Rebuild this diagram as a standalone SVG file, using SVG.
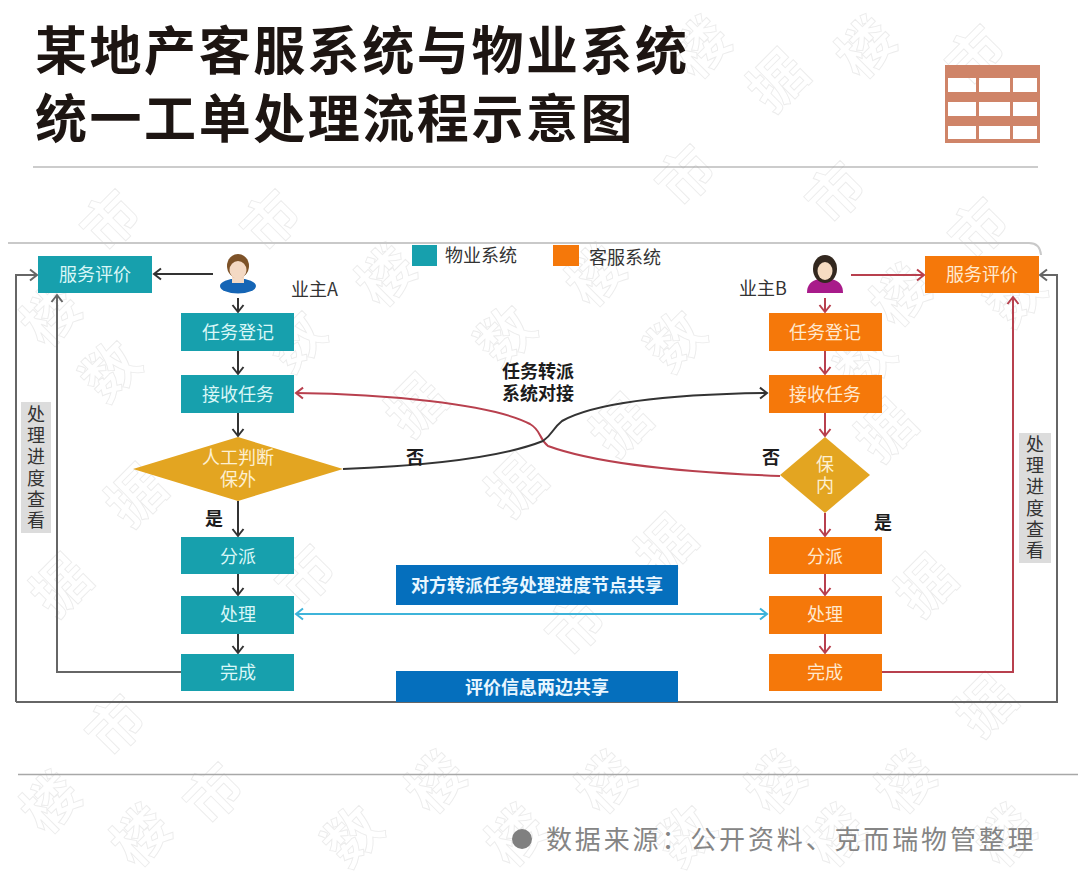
<svg xmlns="http://www.w3.org/2000/svg" width="1080" height="890" viewBox="0 0 1080 890">
<style>
text{font-family:"Noto Sans CJK SC","Noto Sans",sans-serif}
.wm text{font-size:56px;font-weight:700;fill:none;stroke:#ececec;stroke-width:.9;text-anchor:middle}
.title{font-size:52px;font-weight:700;fill:#1d1512;letter-spacing:2.55px}
.t{font-size:18px;text-anchor:middle;dominant-baseline:central}
.s{font-size:18px;font-weight:700;fill:#e8f6ff}
.tl{fill:#d9f7f7}.ol{fill:#ffe9cf}.dt{fill:#fdf0d2}
.teal{fill:#17a0ad}.org{fill:#f5780a}.blue{fill:#056fbd}.dia{fill:#e3a521}
.lab{fill:#333;font-size:18px}
.b{fill:#1c1c1c;font-size:18px;font-weight:700;text-anchor:middle;dominant-baseline:central}
.v{fill:#333;font-size:18px;writing-mode:vertical-rl;text-orientation:upright;letter-spacing:3.3px}
.k{fill:none;stroke:#333;stroke-width:2}
.r{fill:none;stroke:#b8404e;stroke-width:2}
.g{fill:none;stroke:#666;stroke-width:2}
.c{fill:none;stroke:#3eb4da;stroke-width:2}
</style>
<defs>
<marker id="ak" markerUnits="userSpaceOnUse" markerWidth="12" markerHeight="14" refX="10" refY="7" orient="auto-start-reverse"><path d="M3 1.5L10 7L3 12.5" fill="none" stroke="#333" stroke-width="2"/></marker>
<marker id="ar" markerUnits="userSpaceOnUse" markerWidth="12" markerHeight="14" refX="10" refY="7" orient="auto-start-reverse"><path d="M3 1.5L10 7L3 12.5" fill="none" stroke="#b8404e" stroke-width="2"/></marker>
<marker id="ac" markerUnits="userSpaceOnUse" markerWidth="12" markerHeight="14" refX="10" refY="7" orient="auto-start-reverse"><path d="M3 1.5L10 7L3 12.5" fill="none" stroke="#3eb4da" stroke-width="2"/></marker>
<marker id="ag" markerUnits="userSpaceOnUse" markerWidth="12" markerHeight="14" refX="10" refY="7" orient="auto-start-reverse"><path d="M3 1.5L10 7L3 12.5" fill="none" stroke="#666" stroke-width="2"/></marker>
</defs>
<rect width="1080" height="890" fill="#fff"/>
<g id="watermark" class="wm">
<text transform="translate(715,62) rotate(-45)">楼</text>
<text transform="translate(880,62) rotate(-45)">楼</text>
<text transform="translate(792,95) rotate(-45)">据</text>
<text transform="translate(990,70) rotate(-45)">市</text>
<text transform="translate(700,190) rotate(-45)">市</text>
<text transform="translate(850,207) rotate(-45)">市</text>
<text transform="translate(993,243) rotate(-45)">市</text>
<text transform="translate(125,235) rotate(-45)">市</text>
<text transform="translate(285,235) rotate(-45)">市</text>
<text transform="translate(65,330) rotate(-45)">楼</text>
<text transform="translate(125,385) rotate(-45)">数</text>
<text transform="translate(310,355) rotate(-45)">数</text>
<text transform="translate(520,350) rotate(-45)">数</text>
<text transform="translate(690,355) rotate(-45)">数</text>
<text transform="translate(880,375) rotate(-45)">数</text>
<text transform="translate(1030,310) rotate(-45)">数</text>
<text transform="translate(400,290) rotate(-45)">楼</text>
<text transform="translate(610,290) rotate(-45)">楼</text>
<text transform="translate(915,310) rotate(-45)">楼</text>
<text transform="translate(430,420) rotate(-45)">据</text>
<text transform="translate(635,440) rotate(-45)">据</text>
<text transform="translate(900,445) rotate(-45)">据</text>
<text transform="translate(150,510) rotate(-45)">据</text>
<text transform="translate(530,500) rotate(-45)">据</text>
<text transform="translate(680,560) rotate(-45)">据</text>
<text transform="translate(940,600) rotate(-45)">据</text>
<text transform="translate(75,600) rotate(-45)">据</text>
<text transform="translate(320,590) rotate(-45)">市</text>
<text transform="translate(590,640) rotate(-45)">市</text>
<text transform="translate(1000,720) rotate(-45)">据</text>
<text transform="translate(130,740) rotate(-45)">市</text>
<text transform="translate(228,808) rotate(-45)">市</text>
<text transform="translate(65,817) rotate(-45)">楼</text>
<text transform="translate(155,850) rotate(-45)">楼</text>
<text transform="translate(450,797) rotate(-45)">楼</text>
<text transform="translate(367,850) rotate(-45)">数</text>
<text transform="translate(620,797) rotate(-45)">楼</text>
<text transform="translate(790,797) rotate(-45)">楼</text>
<text transform="translate(920,797) rotate(-45)">楼</text>
<text transform="translate(530,850) rotate(-45)">楼</text>
<text transform="translate(700,850) rotate(-45)">数</text>
<text transform="translate(850,850) rotate(-45)">楼</text>
<text transform="translate(1020,850) rotate(-45)">楼</text>
</g>
<g id="header">
<text class="title" x="35" y="70">某地产客服系统与物业系统</text>
<text class="title" x="35" y="138">统一工单处理流程示意图</text>
<path d="M33 167H1038" stroke="#9a9a9a" stroke-width="1.2" fill="none"/>
<path d="M945 65H1040V143H945Z M948 78V92H976V78Z M979 78V92H1010V78Z M1013 78V92H1037V78Z M948 102V116H976V102Z M979 102V116H1010V102Z M1013 102V116H1037V102Z M948 126V139H976V126Z M979 126V139H1010V126Z M1013 126V139H1037V126Z" fill="#cf8468" fill-rule="evenodd"/>
</g>
<g id="connectors">
<path d="M8 243H1029Q1040 243 1041 255" fill="none" stroke="#c9c9c9" stroke-width="2"/>
<path class="g" d="M16 702V275H37" marker-end="url(#ag)"/>
<path class="g" d="M16 702H1057V275H1040" marker-end="url(#ag)"/>
<path class="g" d="M181 672H57V295" marker-end="url(#ag)"/>
<path class="k" d="M213 274H154" marker-end="url(#ak)"/>
<path class="k" d="M238 298V312" marker-end="url(#ak)"/>
<path class="k" d="M238 351V374" marker-end="url(#ak)"/>
<path class="k" d="M238 413V436" marker-end="url(#ak)"/>
<path class="k" d="M238 501V536" marker-end="url(#ak)"/>
<path class="k" d="M238 574V595" marker-end="url(#ak)"/>
<path class="k" d="M238 634V653" marker-end="url(#ak)"/>
<path class="r" d="M851 275H924" marker-end="url(#ar)"/>
<path class="r" d="M825 298V312" marker-end="url(#ar)"/>
<path class="r" d="M825 351V374" marker-end="url(#ar)"/>
<path class="r" d="M825 413V436" marker-end="url(#ar)"/>
<path class="r" d="M825 513V536" marker-end="url(#ar)"/>
<path class="r" d="M825 574V595" marker-end="url(#ar)"/>
<path class="r" d="M825 634V653" marker-end="url(#ar)"/>
<path class="r" d="M882 672H1013V297" marker-end="url(#ar)"/>
<path class="r" d="M780 476C700 473 600 465 548 446C538 438 542 431 530 424C490 403 380 394 296 393" marker-end="url(#ar)"/>
<path class="k" d="M343 469C420 466 500 458 543 441C553 434 552 429 562 421C600 400 690 394 767 393" marker-end="url(#ak)"/>
<path class="c" d="M296 614H767" marker-start="url(#ac)" marker-end="url(#ac)"/>
</g>
<g id="legend">
<rect class="teal" x="412" y="245" width="25" height="21"/>
<text class="lab" x="445" y="262">物业系统</text>
<rect class="org" x="553" y="245" width="26" height="21"/>
<text class="lab" x="589" y="264">客服系统</text>
</g>
<g id="owner-a">
<ellipse cx="238" cy="286" rx="18" ry="7.5" fill="#1565b5"/>
<rect x="232" y="275" width="12" height="8" fill="#f4d9c4"/>
<ellipse cx="238" cy="266" rx="11" ry="12" fill="#7d5228"/>
<ellipse cx="238" cy="270" rx="8.5" ry="9" fill="#f4d9c4"/>
<text class="lab" x="291" y="296">业主A</text>
</g>
<g id="owner-b">
<path d="M807 293Q807 281 819 279H831Q843 281 843 293Z" fill="#a81b8a"/>
<ellipse cx="825" cy="269" rx="12" ry="14" fill="#33281f"/>
<ellipse cx="825" cy="271" rx="7.5" ry="9" fill="#f6dcc2"/>
<text class="lab" x="739" y="295">业主B</text>
</g>
<g id="eval-a"><rect class="teal" x="38" y="256" width="114" height="37"/><text class="t tl" x="95" y="273">服务评价</text></g>
<g id="reg-a"><rect class="teal" x="181" y="313" width="113" height="38"/><text class="t tl" x="238" y="331">任务登记</text></g>
<g id="recv-a"><rect class="teal" x="181" y="375" width="113" height="38"/><text class="t tl" x="238" y="393">接收任务</text></g>
<g id="judge-a"><path class="dia" d="M238 437L343 469L238 501L133 469Z"/><text class="t dt" x="238" y="456">人工判断</text><text class="t dt" x="238" y="478">保外</text></g>
<g id="dispatch-a"><rect class="teal" x="181" y="537" width="113" height="37"/><text class="t tl" x="238" y="555">分派</text></g>
<g id="handle-a"><rect class="teal" x="181" y="596" width="113" height="38"/><text class="t tl" x="238" y="613">处理</text></g>
<g id="done-a"><rect class="teal" x="181" y="654" width="113" height="37"/><text class="t tl" x="238" y="671">完成</text></g>
<g id="eval-b"><rect class="org" x="925" y="256" width="114" height="37"/><text class="t ol" x="982" y="273">服务评价</text></g>
<g id="reg-b"><rect class="org" x="769" y="313" width="113" height="38"/><text class="t ol" x="825" y="331">任务登记</text></g>
<g id="recv-b"><rect class="org" x="769" y="375" width="113" height="38"/><text class="t ol" x="825" y="393">接收任务</text></g>
<g id="judge-b"><path class="dia" d="M825 437L870 475L825 513L780 475Z"/><text class="t dt" x="825" y="463">保</text><text class="t dt" x="825" y="484">内</text></g>
<g id="dispatch-b"><rect class="org" x="769" y="537" width="113" height="37"/><text class="t ol" x="825" y="555">分派</text></g>
<g id="handle-b"><rect class="org" x="769" y="596" width="113" height="38"/><text class="t ol" x="825" y="613">处理</text></g>
<g id="done-b"><rect class="org" x="769" y="654" width="113" height="37"/><text class="t ol" x="825" y="671">完成</text></g>
<g id="share-progress"><rect class="blue" x="396" y="565" width="282" height="40"/><text class="t s" x="537" y="584">对方转派任务处理进度节点共享</text></g>
<g id="share-eval"><rect class="blue" x="396" y="671" width="282" height="31"/><text class="t s" x="537" y="686">评价信息两边共享</text></g>
<g id="labels">
<text class="b" x="538" y="370">任务转派</text>
<text class="b" x="538" y="392">系统对接</text>
<text class="b" x="415" y="456">否</text>
<text class="b" x="771" y="456">否</text>
<text class="b" x="214" y="517">是</text>
<text class="b" x="883" y="521">是</text>
</g>
<g id="progress-a"><rect x="21" y="402" width="30" height="131" fill="#dcdcdc"/>
<text class="v" x="36" y="405">处理进度查看</text></g>
<g id="progress-b"><rect x="1019" y="433" width="32" height="130" fill="#dcdcdc"/>
<text class="v" x="1035" y="435">处理进度查看</text></g>
<g id="footer">
<path d="M18 774.5H1078" stroke="#a8a8a8" stroke-width="1.5" fill="none"/>
<circle cx="522" cy="839" r="10" fill="#808080"/>
<text x="546" y="849" style="font-size:26px;letter-spacing:2.85px" fill="#858585">数据来源：公开资料、克而瑞物管整理</text>
</g>
</svg>
